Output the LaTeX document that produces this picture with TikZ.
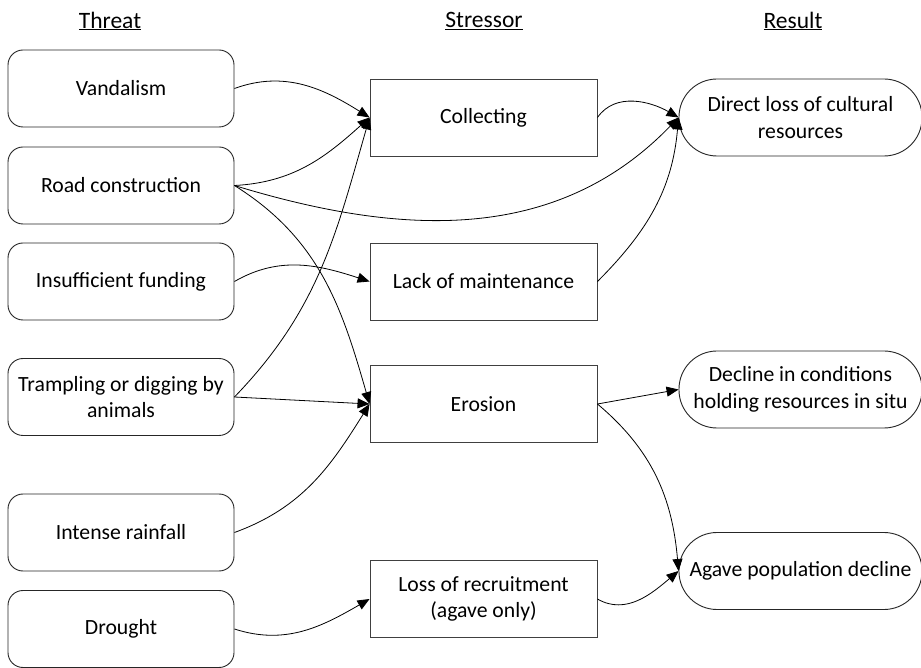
\documentclass[tikz,border=0pt]{standalone}
\usepackage{fontspec}
\setmainfont{Carlito}
\usetikzlibrary{arrows.meta}
\begin{document}
\begin{tikzpicture}[x=1pt,y=1pt,
  every node/.style={font=\fontsize{21.7}{26.5}\selectfont, align=center, inner sep=0pt},
  threat/.style={draw=black!85, line width=0.9pt, rounded corners=15pt, minimum width=226pt, minimum height=77pt},
  stress/.style={draw=black!75, line width=0.9pt, minimum width=227pt, minimum height=77pt},
  result/.style={draw=black!85, line width=0.9pt, rounded corners=38pt, minimum width=243pt, minimum height=77pt},
  header/.style={font=\fontsize{23.5}{28}\selectfont},
  conn/.style={line width=0.8pt, -{Triangle[length=12pt,width=10pt]}}
]
\useasboundingbox (0,0) rectangle (921,667);
\fill[white] (0,0) rectangle (921,667);

% headers
\node[header] (hT) at (110,646) {\underline{Threat}};
\node[header] (hS) at (484,646) {\underline{Stressor}};
\node[header] (hR) at (793,646) {\underline{Result}};

% threats
\node[threat] (vand) at (121,578.5) {Vandalism};
\node[threat] (road) at (121,481.5) {Road construction};
\node[threat] (fund) at (121,385.5) {Insufficient funding};
\node[threat] (tramp) at (121,270) {Trampling or digging by\\animals};
\node[threat] (rain) at (121,134.5) {Intense rainfall};
\node[threat] (drought) at (121,38) {Drought};

% stressors
\node[stress] (coll) at (483.5,549.5) {Collecting};
\node[stress] (maint) at (483.5,385.5) {Lack of maintenance};
\node[stress] (eros) at (483.5,263) {Erosion};
\node[stress] (recr) at (483.5,68) {Loss of recruitment\\(agave only)};

% results
\node[result] (direct) at (800.5,549.5) {Direct loss of cultural\\resources};
\node[result] (decl) at (800.5,277.5) {Decline in conditions\\holding resources in situ};
\node[result] (agave) at (800.5,96) {Agave population decline};

% connectors threat -> stressor
\draw[conn] (vand.east) to[out=20,in=148] (coll.west);
\draw[conn] (road.east) to[out=3,in=222] (coll.west);
\draw[conn] (road.east) to[out=-17,in=226] (direct.west);
\draw[conn] (road.east) to[out=-32,in=106] (eros.west);
\draw[conn] (fund.east) to[out=30,in=162] (maint.west);
\draw[conn] (tramp.east) to[out=46,in=254] (coll.west);
\draw[conn] (tramp.east) -- (eros.west);
\draw[conn] (rain.east) to[out=20,in=238] (eros.west);
\draw[conn] (drought.east) to[out=-18,in=210] (recr.west);

% stressor -> result
\draw[conn] (coll.east) to[out=55,in=150] (direct.west);
\draw[conn] (maint.east) to[out=45,in=265] (direct.west);
\draw[conn] (eros.east) -- (decl.west);
\draw[conn] (eros.east) to[out=-40,in=95] (agave.west);
\draw[conn] (recr.east) to[out=-30,in=220] (agave.west);
\end{tikzpicture}
\end{document}
